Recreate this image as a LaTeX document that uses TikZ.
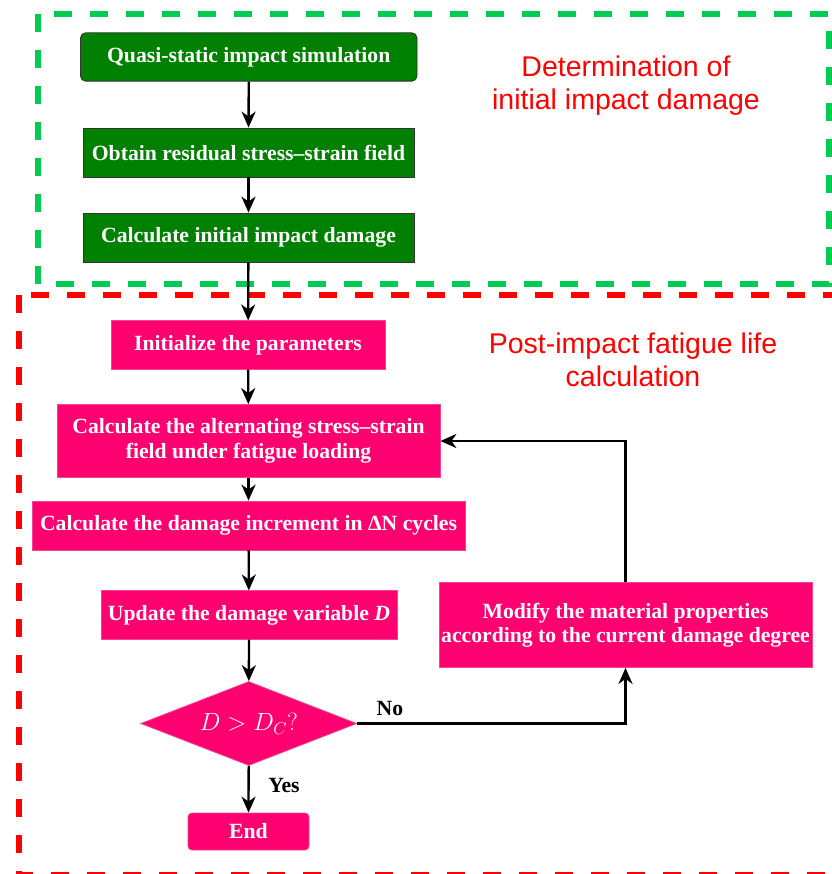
\documentclass[tikz,border=0pt]{standalone}
\usepackage{fontspec}
\setmainfont{Liberation Serif}
\newfontfamily\arialfont{Liberation Sans}
\usetikzlibrary{arrows.meta,shapes.geometric}
\definecolor{boxgreen}{RGB}{0,128,0}
\definecolor{boxpink}{RGB}{255,0,112}
\definecolor{pinkedge}{RGB}{240,70,140}
\definecolor{dashgreen}{RGB}{0,204,85}
\definecolor{dashred}{RGB}{255,0,0}
\definecolor{titlered}{RGB}{255,0,0}
\tikzset{
  greenbox/.style={draw=black!80, line width=0.8pt, fill=boxgreen, text=white, inner sep=0pt, align=center,
    font=\bfseries\fontsize{21.7}{24.5}\selectfont},
  pinkbox/.style={draw=pinkedge, line width=0.8pt, fill=boxpink, text=white, inner sep=0pt, align=center,
    font=\bfseries\fontsize{21.7}{24.5}\selectfont},
  decision/.style={diamond, aspect=2.6, draw=pinkedge, line width=0.8pt, fill=boxpink, text=white, inner sep=0pt,
    minimum width=216pt, minimum height=84pt, font=\fontsize{23}{26}\selectfont},
  flow/.style={line width=2.3pt, -{Stealth[length=16pt,width=14pt,inset=5pt]}},
  frame/.style={line width=6pt, dash pattern=on 18pt off 18pt},
  title/.style={text=titlered, align=center, font=\arialfont\fontsize{28.5}{33}\selectfont},
  lbl/.style={text=black, font=\bfseries\fontsize{21.7}{24}\selectfont, inner sep=0pt}
}
\begin{document}
\begin{tikzpicture}[x=1pt,y=-1pt]
\useasboundingbox (0,0) rectangle (831,874);
% frames
\draw[frame, draw=dashgreen] (38,14) rectangle (829,284);
\draw[frame, draw=dashred] (18.5,295) rectangle (840,874.5);
% titles
\node[title] (t1) at (626,86) {Determination of\\initial impact damage};
\node[title] (t2) at (633,360) {Post-impact fatigue life\\calculation};
% boxes
\node[greenbox, rounded corners=5pt, minimum width=336.5pt, minimum height=48.3pt] (b1) at (248.75,57) {Quasi-static impact simulation};
\node[greenbox, minimum width=331pt, minimum height=49pt] (b2) at (248.5,152.5) {Obtain residual stress--strain field};
\node[greenbox, minimum width=331pt, minimum height=49pt] (b3) at (248.5,237.5) {Calculate initial impact damage};
\node[pinkbox, minimum width=274pt, minimum height=48.3pt] (b4) at (248,345) {Initialize the parameters};
\node[pinkbox, minimum width=383pt, minimum height=73pt] (b5) at (248.5,441) {Calculate the alternating stress--strain\\field under fatigue loading};
\node[pinkbox, minimum width=433pt, minimum height=49pt] (b6) at (248.5,525.5) {Calculate the damage increment in ΔN cycles};
\node[pinkbox, minimum width=296pt, minimum height=48.3pt] (b7) at (249,615) {Update the damage variable \textit{D}};
\node[pinkbox, minimum width=373pt, minimum height=85pt] (b8) at (625.5,625) {Modify the material properties\\according to the current damage degree};
\node[decision] (d1) at (248.75,723.5) {$D>D_C?$};
\node[pinkbox, rounded corners=4pt, minimum width=121pt, minimum height=37pt] (e1) at (248.5,831.5) {End};
% connectors
\draw[flow] (b1) -- (b2);
\draw[flow] (b2) -- (b3);
\draw[flow] (b3) -- (b4);
\draw[flow] (b4) -- (b5);
\draw[flow] (b5) -- (b6);
\draw[flow] (b6) -- (b7);
\draw[flow] (b7) -- (d1);
\draw[flow] (d1) -- (e1);
\draw[flow] (d1.east) -| (b8.south);
\draw[flow] (b8.north) |- (b5.east);
% labels
\node[lbl] (yes) at (284,785) {Yes};
\node[lbl] (no) at (390,708) {No};
\end{tikzpicture}
\end{document}
